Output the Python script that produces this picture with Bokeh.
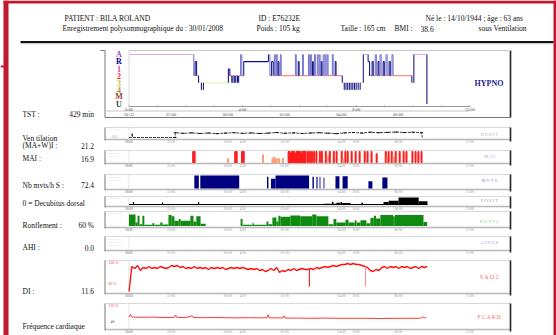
import numpy as np
from bokeh.plotting import figure
from bokeh.models import Range1d
from bokeh.embed import file_html
from bokeh.resources import INLINE
from bokeh.core.properties import value

# ============================ DATA ============================
hdr_text = ["PATIENT : BILA ROLAND",
            "Enregistrement polysomnographique du : 30/01/2008",
            "ID : E76232E", "Poids : 105 kg",
            "Né le : 14/10/1944 ; âge : 63 ans",
            "Taille : 165 cm", "BMI :", "38.6", "sous Ventilation"]

sum_lab = ["TST :", "Ven tilation", "(MA+W)I :", "MAI :", "Nb mvts/h S :",
           "0 = Decubitus dorsal", "Ronflement :", "AHI :", "DI :", "Fréquence cardiaque"]
sum_val = ["429 min", "21.2", "16.9", "72.4", "60 %", "0.0", "11.6"]

stage_names = ["A", "R", "1", "2", "3", "4", "M", "U"]

# clock / elapsed time ticks (hours since recording start)
clock_lab = ["20:31", "22:00", "00:00", "02:00", "04:00", "06:00"]
clock_h = [0.0, 1.48, 3.48, 5.48, 7.48, 9.48]
elapsed_lab = ["0:00", "4:00", "8:00", "12:00"]
elapsed_h = [0.0, 4.0, 8.0, 12.0]

# hypnogram (start time in hours, stage)
hyp_t = [0.00, 2.28, 2.33, 2.38, 2.45, 2.55, 2.62, 3.50, 3.55, 3.62,
         3.66, 3.72, 3.76, 3.82, 3.86, 3.93, 3.97, 4.04, 4.91, 4.96,
         5.02, 5.08, 5.12, 5.15, 5.19, 5.22, 5.25, 5.28, 5.33, 5.36,
         5.86, 5.89, 5.96, 5.99, 6.11, 6.14, 6.32, 6.35, 6.39, 6.42,
         6.46, 6.49, 6.53, 6.56, 6.63, 6.66, 6.70, 6.73, 6.77, 6.80,
         6.84, 6.87, 6.91, 6.94, 6.98, 7.01, 7.16, 7.19, 7.26, 7.29,
         7.51, 7.58, 7.64, 7.70, 7.76, 7.82, 7.88, 7.94, 8.00, 8.07,
         8.14, 8.25, 8.42, 8.47, 8.56, 8.60, 8.67, 8.71, 8.77, 8.80,
         8.84, 8.88, 8.95, 8.99, 9.05, 9.09, 9.16, 9.20, 9.26, 9.30,
         9.96, 10.03, 10.49]
hyp_s = ["A", "2", "R", "2", "3", "4", "3", "1", "2", "3",
         "2", "3", "2", "3", "2", "A", "2", "R", "A", "2",
         "R", "2", "A", "2", "A", "2", "R", "2", "A", "2",
         "A", "2", "R", "2", "A", "2", "A", "2", "A", "2",
         "R", "2", "A", "2", "A", "2", "A", "2", "R", "2",
         "A", "2", "A", "2", "A", "2", "A", "2", "R", "2",
         "3", "4", "3", "4", "3", "4", "3", "4", "3", "4",
         "3", "A", "R", "2", "R", "2", "A", "2", "R", "2",
         "A", "2", "R", "2", "A", "2", "R", "2", "A", "2",
         "3", "A", "U"]

# ventilation trace
vent_t = [0.00, 0.10, 0.11, 0.13, 1.62, 1.63, 1.90, 2.20, 2.50, 2.80, 3.10, 3.40,
          3.70, 4.00, 4.30, 4.60, 4.90, 5.20, 5.50, 5.80, 6.10, 6.40, 6.70, 7.00,
          7.30, 7.60, 7.90, 8.20, 8.50, 8.80, 9.10, 9.40, 9.70, 10.00, 10.30, 10.33]
vent_v = [0.00, 0.00, 0.55, 0.00, 0.00, 0.60, 0.52, 0.58, 0.50, 0.56, 0.48, 0.55,
          0.60, 0.52, 0.57, 0.50, 0.55, 0.62, 0.53, 0.58, 0.50, 0.56, 0.60, 0.54,
          0.48, 0.58, 0.62, 0.56, 0.66, 0.60, 0.64, 0.68, 0.62, 0.66, 0.60, 0.00]

# micro-arousals (time, relative height)
mai_t = [2.26, 2.31, 3.49, 3.74, 3.79, 3.98, 4.04, 4.72, 5.05, 5.10, 5.15, 5.20, 5.28, 5.42,
         5.62, 5.66, 5.70, 5.74, 5.78, 5.82, 5.86, 5.90, 5.94, 5.98, 6.02, 6.06, 6.10, 6.14,
         6.18, 6.22, 6.30, 6.37, 6.44, 6.52, 6.60, 6.72, 6.79,
         6.93, 7.00, 7.07, 7.21, 7.31,
         7.49, 7.55, 7.62, 7.70, 7.84,
         7.98, 8.12, 8.30, 8.40, 8.54, 8.72,
         9.04, 9.10, 9.14, 9.25, 9.32, 9.39, 9.53, 9.67, 9.77,
         9.98, 10.09, 10.19, 10.30]
mai_h = [1, 1, .35, 1, 1, 1, 1, .7, .35, .5, .3, .4, .35, .4,
         1, 1, .8, 1, 1, 1, .8, 1, 1, 1, 1, .8, 1, 1,
         1, 1, 1, 1, 1, 1, 1, 1, 1,
         1, .6, 1, 1, 1,
         1, .3, 1, 1, 1,
         1, 1, 1, 1, 1, .8,
         1, .4, 1, 1, .5, 1, 1, 1, 1,
         1, 1, 1, 1]

# movements (start, end, relative height)
mv_l = [2.30, 2.51, 4.86, 5.00, 5.16, 6.46, 6.60, 6.71, 6.85, 7.27, 7.52, 8.43, 8.92]
mv_r = [2.46, 3.88, 4.91, 5.16, 6.34, 6.51, 6.64, 6.74, 6.88, 7.41, 7.70, 8.57, 9.10]
mv_top = [1.00, 1.00, 0.90, 0.75, 1.00, 0.90, 0.90, 0.90, 0.85, 0.95, 0.95, 0.55, 0.85]

# body position (step, 0 = dorsal baseline)
pos_t = [0.00, 0.14, 0.18, 1.16, 1.20, 2.43, 2.47, 6.85, 7.15, 7.20, 7.30, 7.45,
         7.50, 7.80, 8.18, 8.24, 8.96, 9.14, 9.49, 10.20, 10.51]
pos_v = [0.00, 0.35, 0.00, 0.30, 0.00, 0.35, 0.00, 0.10, 0.40, 0.10, 0.25, 0.35,
         0.20, 0.05, 0.25, 0.05, 0.35, 0.55, 1.00, 0.45, 0.00]

# snoring (step)
sn_t = [0.00, 0.23, 0.30, 0.37, 0.47, 0.54, 0.82, 0.89, 1.10, 1.18, 1.39, 1.50, 1.60,
        1.75, 1.82, 2.16, 2.27, 2.37, 2.52, 2.70, 3.93, 4.00, 4.35, 4.40, 4.84, 4.91,
        5.05, 5.19, 5.26, 5.33, 5.68, 6.03, 6.45, 6.60, 7.02, 7.20, 7.30, 7.62, 7.73,
        7.95, 8.01, 8.15, 8.36, 8.50, 8.62, 8.70, 8.85, 9.30, 9.36, 10.37, 10.50]
sn_v = [1.00, 0.30, 0.90, 0.15, 0.90, 0.10, 0.25, 0.10, 0.30, 0.12, 0.95, 0.85, 0.45,
        0.60, 0.45, 0.90, 0.40, 0.85, 0.20, 0.00, 0.60, 0.10, 0.25, 0.10, 0.40, 0.15,
        0.75, 0.40, 0.90, 0.80, 0.92, 0.85, 1.00, 0.85, 0.15, 0.60, 0.30, 0.55, 0.30,
        0.50, 0.30, 0.50, 0.25, 0.70, 0.90, 0.65, 0.95, 0.85, 0.95, 0.35, 0.00]

# SaO2 (%), one sample every 0.1 h
sao2_step = 0.1
sao2 = [72, 97, 95, 98, 93, 96, 95, 97, 95, 96, 95,
        97, 96, 95, 96, 98, 97, 98, 96, 97, 95,
        96, 95, 97, 95, 96, 95, 96, 94, 96, 95,
        96, 95, 96, 94, 95, 96, 95, 96, 95, 96,
        95, 94, 95, 94, 95, 93, 94, 92, 93, 95,
        93, 96, 91, 93, 92, 94, 93, 95, 93, 94,
        95, 94, 94, 95, 94, 96, 95, 96, 97, 96,
        97, 98, 97, 98, 99, 99, 100, 99, 100, 99,
        99, 98, 97, 96, 93, 92, 94, 93, 96, 97,
        95, 97, 96, 97, 95, 97, 96, 97, 95, 96,
        97, 95, 97, 96, 97]
sao2_spk_t = [6.35, 8.33]
sao2_spk_hi = [94, 98]
sao2_spk_lo = [77, 77]

# heart rate (bpm)
fc_t = [0.00, 0.05, 0.10, 0.15, 0.40, 0.80, 1.20, 1.60, 1.64, 1.68, 2.00, 2.18, 2.22, 2.26,
        2.60, 3.00, 3.40, 3.80, 4.20, 4.60, 4.86, 4.90, 4.94, 5.20, 5.42, 5.46, 5.50, 5.90,
        6.40, 6.90, 7.40, 7.90, 8.40, 8.90, 9.40, 9.90, 10.20, 10.30, 10.34, 10.40, 10.47]
fc_v = [62, 75, 64, 62, 61, 62, 60, 61, 72, 61, 60, 66, 70, 60,
        59, 60, 59, 58, 59, 58, 59, 74, 58, 58, 58, 68, 57, 57,
        56, 57, 56, 56, 56, 55, 56, 56, 56, 58, 64, 58, 60]

ch_lab = ["D E B I T", "M A I", "M V T S", "P O S I T", "R O N F L", "A P N E E", "S A O 2", "F C A R D"]

# ============================ LAYOUT ============================
W, H = 556, 335
X0, PXH = 128.5, 28.4          # pixel of hour 0, pixels per hour
BX0, BX1, XEND = 104.5, 510.0, 470.0
SERIF = value("Liberation Serif")
RED = "#c3162f"

def hours_range():
    k = 1.0 / PXH
    s = -X0 * k
    return Range1d(start=s, end=s + W * k)

def yr(py_lo, v_lo, py_hi, v_hi):
    k = (v_hi - v_lo) / (py_lo - py_hi)
    s = v_lo - k * (H - py_lo)
    return Range1d(start=s, end=s + k * H)

p = figure(width=W, height=H, x_range=Range1d(0, W), y_range=Range1d(H, 0),
           output_backend="svg", toolbar_location=None, min_border=0,
           x_axis_location=None, y_axis_location=None)
p.grid.visible = False
p.outline_line_color = None
p.background_fill_color = "white"
p.border_fill_color = "white"

p.extra_x_ranges = {"t": hours_range()}
p.extra_y_ranges = {
    "hyp": yr(103.5, 0, 54, 7),
    "vent": yr(137, 0, 129, 1),
    "mai": yr(162, 0, 151, 1),
    "mvt": yr(188, 0, 175, 1),
    "pos": yr(204, 0, 197, 1),
    "snore": yr(225.5, 0, 214, 1),
    "sao2": yr(283, 80, 263, 100),
    "fc": yr(321, 40, 305, 120),
}

# ---- page frame ----
p.quad(left=[3, 553, 3], right=[8, 556, 556], top=[0, 0, 0], bottom=[H, H, 3],
       color=RED, line_color=None)
p.segment(x0=[0], x1=[4], y0=[66], y1=[66], color=RED, line_width=2)
p.segment(x0=[20], x1=[553], y0=[41.5], y1=[41.5], color="#111111", line_width=2.2)
p.segment(x0=[20], x1=[553], y0=[43.2], y1=[43.2], color="#b0b0b0", line_width=0.8)

# ---- header ----
hdr_x = [64, 62, 258, 256, 425, 340, 394, 420, 478]
hdr_y = [17.5, 28, 17.5, 28, 17.5, 28, 28, 28, 28]
p.text(x=hdr_x, y=hdr_y, text=hdr_text, text_font=SERIF, text_font_size="7.5px",
       text_baseline="middle", text_align="left", text_color="#111111")

# ---- left summary ----
sum_lab_y = [113.5, 138, 145, 158, 184.5, 203, 225, 247, 290.5, 326]
sum_val_y = [113.5, 145, 158, 184.5, 225, 247, 290.5]
p.text(x=[22] * len(sum_lab), y=sum_lab_y, text=sum_lab, text_font=SERIF,
       text_font_size="7.5px", text_baseline="middle", text_align="left", text_color="#111111")
p.text(x=[93.5] * len(sum_val), y=sum_val_y, text=sum_val, text_font=SERIF,
       text_font_size="7.5px", text_baseline="middle", text_align="right", text_color="#111111")

# ---- hypnogram frame ----
p.segment(x0=[100, BX0, BX1, BX0, 128.5, BX0, 128.5],
          x1=[BX0, BX0, BX1, BX1, BX1, XEND, 128.5],
          y0=[50, 50, 50, 117, 50, 110.5, 50],
          y1=[50, 117, 117, 117, 50, 110.5, 106],
          color=["#777777", "#777777", "#222222", "#777777", "#c8c8c8", "#c8c8c8", "#d0d0d0"],
          line_width=[1, 1, 1.6, 1.2, 1, 1, 0.8])
p.segment(x0=[0], x1=[12], y0=[106], y1=[106], x_range_name="t", color="#999999", line_width=1)
hticks = list(range(0, 13))
p.segment(x0=hticks, x1=hticks, y0=[106] * 13, y1=[104.5] * 13, x_range_name="t",
          color="#999999", line_width=0.7)
p.text(x=elapsed_h, y=[108.6] * 4, text=elapsed_lab, x_range_name="t", text_font=SERIF,
       text_font_size="4.5px", text_baseline="middle", text_align="center", text_color="#555555")
p.text(x=clock_h, y=[113.6] * 6, text=clock_lab, x_range_name="t", text_font=SERIF,
       text_font_size="4.5px", text_baseline="middle", text_align="center", text_color="#555555")

stage_lvl = {s: 7 - i for i, s in enumerate(stage_names)}
lab_col = ["#a040c8", "#000080", "#e030d0", "#ff2020", "#c8c040", "#a89a20", "#a03838", "#404040"]
p.text(x=[118.5] * 8, y=[stage_lvl[s] for s in stage_names], text=stage_names,
       y_range_name="hyp", text_font=SERIF, text_font_size="8px", text_font_style="bold",
       text_baseline="middle", text_align="center", text_color=lab_col)

hor_col = {"A": "#e2a6ec", "R": "#10108a", "1": "#ff60ff", "2": "#ff8a8a",
           "3": "#eeeec4", "4": "#e2e2b4", "M": "#c08080", "U": "#ffffff"}
hx0 = hyp_t[:-1]
hx1 = hyp_t[1:]
hy = [stage_lvl[s] for s in hyp_s[:-1]]
hc = [hor_col[s] for s in hyp_s[:-1]]
p.segment(x0=hx0, x1=hx1, y0=hy, y1=hy, color=hc, line_width=1.2,
          x_range_name="t", y_range_name="hyp")
vy0 = [stage_lvl[s] for s in hyp_s[:-1]]
vy1 = [stage_lvl[s] for s in hyp_s[1:]]
vcol = ["#7a7ad0" if set((a, b)) == {"A", "2"} else "#1c1c8c"
        for a, b in zip(hyp_s[:-1], hyp_s[1:])]
p.segment(x0=hyp_t[1:], x1=hyp_t[1:], y0=vy0, y1=vy1, color=vcol, line_width=1.1,
          x_range_name="t", y_range_name="hyp")
p.text(x=[488.5], y=[83], text=["HYPNO"], text_font=SERIF, text_font_size="8px",
       text_font_style="bold", text_baseline="middle", text_align="center", text_color="#1c1c8c")

# ---- small panel frames ----
panels = [("vent", 127, 139), ("mai", 150, 163), ("mvt", 174, 189), ("pos", 196, 206),
          ("snore", 211, 227), ("ahi", 236, 250), ("sao2", 260, 293), ("fc", 303, 329)]
ch_col = ["#b4b4b4", "#a8a8e0", "#8c8cd0", "#a0a0a0", "#8ed08e", "#a8a8d8", "#ff6a6a", "#ff6a6a"]
ch_size = ["4.5px"] * 6 + ["6px", "5.5px"]
ch_dy = [0.55, 0.45, 0.4, 0.4, 0.6, 0.45, 0.5, 0.5]
for i, (name, top, bot) in enumerate(panels):
    p.segment(x0=[BX0, BX0, BX0, BX1, 128.5],
              x1=[BX1, BX1, BX0, BX1, 128.5],
              y0=[top, bot, top, top, top],
              y1=[top, bot, bot + 1, bot + 2, bot],
              color=["#cfcfcf", "#b8b8b8", "#777777", "#222222", "#dadada"],
              line_width=[0.8, 1.6, 1, 1.6, 0.7])
    p.text(x=clock_h + elapsed_h, y=[bot + 2.6] * 10, text=clock_lab + elapsed_lab,
           x_range_name="t", text_font=SERIF, text_font_size="3.6px",
           text_baseline="middle", text_align="center", text_color="#9a9a9a")
    p.text(x=[489], y=[top + (bot - top) * ch_dy[i]], text=[ch_lab[i]], text_font=SERIF,
           text_font_size=ch_size[i], text_baseline="middle", text_align="center",
           text_color=ch_col[i])

# tiny left-area legends
p.text(x=[108, 112, 108, 108, 108, 108, 108, 108, 108, 108, 108, 108, 108, 108, 110],
       y=[129.5, 136, 153, 156.5, 177, 180.5, 198.5, 213.5, 239, 242, 245, 262.5, 283, 305.5, 321],
       text=["- - - - - -", "0.5", "- - - - - -", "- - - - - -", "- - - - - -", "- - - - - -",
             "- - - - - -", "- - - - - -", "- - - - - -", "- - - - - -", "- - - - - -",
             "100 %", "80 %", "120 %", "40"],
       text_color=["#aaaaaa", "#888888", "#ff7070", "#ff9090", "#9090e0", "#b0b0e8",
                   "#999999", "#40b040", "#9090e0", "#ff9090", "#70c070", "#ff4040",
                   "#ff4040", "#ff4040", "#444444"],
       text_font=SERIF, text_font_size="3.8px", text_baseline="middle", text_align="left")

# ---- ventilation ----
p.line(x=vent_t, y=vent_v, x_range_name="t", y_range_name="vent", color="#111111",
       line_width=0.8, line_dash="3 1")
p.scatter(x=vent_t[4:-1], y=vent_v[4:-1], x_range_name="t", y_range_name="vent",
          marker="dash", size=3, color="#111111", line_width=1)

# ---- MAI ----
mai_col = ["#ff1a1a" if h >= 0.75 else "#ff9a70" for h in mai_h]
p.vbar(x=mai_t, width=0.035, bottom=0, top=mai_h, color=mai_col,
       x_range_name="t", y_range_name="mai")

# ---- movements ----
p.quad(left=mv_l, right=mv_r, bottom=[0] * len(mv_l), top=mv_top, color="#000080",
       line_color=None, x_range_name="t", y_range_name="mvt")

# ---- position ----
p.quad(left=pos_t[:-1], right=pos_t[1:], bottom=[0] * (len(pos_t) - 1), top=pos_v[:-1],
       color="#000000", line_color=None, x_range_name="t", y_range_name="pos")
p.segment(x0=[pos_t[0]], x1=[pos_t[-1]], y0=[0], y1=[0], color="#000000", line_width=1.2,
          x_range_name="t", y_range_name="pos")

# ---- snoring ----
p.quad(left=sn_t[:-1], right=sn_t[1:], bottom=[0] * (len(sn_t) - 1), top=sn_v[:-1],
       color="#118a11", line_color=None, x_range_name="t", y_range_name="snore")

# ---- SaO2 ----
sao2_t = [round(i * sao2_step, 2) for i in range(len(sao2))]
p.line(x=sao2_t, y=sao2, x_range_name="t", y_range_name="sao2", color="#ff1010", line_width=1.4)
p.segment(x0=sao2_spk_t, x1=sao2_spk_t, y0=sao2_spk_hi, y1=sao2_spk_lo,
          color=["#e00000", "#ff8a8a"], line_width=1, x_range_name="t", y_range_name="sao2")

# ---- heart rate ----
p.line(x=fc_t, y=fc_v, x_range_name="t", y_range_name="fc", color="#ff2020", line_width=0.9)

open("out.html", "w").write(file_html(p, INLINE))
